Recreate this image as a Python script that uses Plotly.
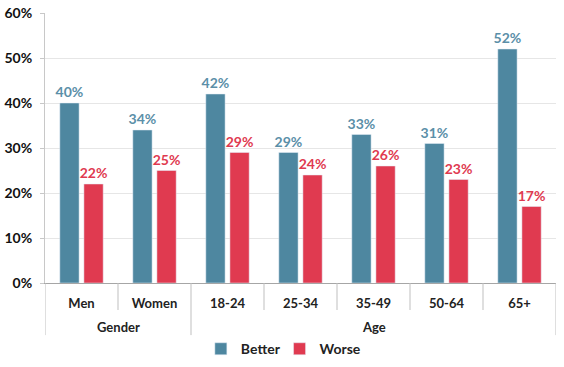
import plotly.graph_objects as go

categories = ["Men", "Women", "18-24", "25-34", "35-49", "50-64", "65+"]
groups = ["Gender", "Age"]
group_sizes = [2, 5]
better = [40, 34, 42, 29, 33, 31, 52]
worse = [22, 25, 29, 24, 26, 23, 17]
y_ticks = [0, 10, 20, 30, 40, 50, 60]

FONT = "Lato"
BLUE = "#4E87A0"
RED = "#E03A50"
x = list(range(len(categories)))

fig = go.Figure()
fig.add_trace(go.Bar(
    x=x, y=better, name="Better", marker_color=BLUE, legend="legend",
    text=[f"{v}%" for v in better], textposition="outside", constraintext="none",
    textfont=dict(family=FONT, size=14, color="#5B8FA8", weight="bold"),
    cliponaxis=False,
))
fig.add_trace(go.Bar(
    x=x, y=worse, name="Worse", marker_color=RED, legend="legend2",
    text=[f"{v}%" for v in worse], textposition="outside", constraintext="none",
    textfont=dict(family=FONT, size=14, color=RED, weight="bold"),
    cliponaxis=False,
))

shapes = []
line_col = "#BFBFBF"
bounds = [-0.5]
acc = -0.5
for s in group_sizes:
    acc += s
    bounds.append(acc)
for i in range(len(categories) + 1):
    xpos = i - 0.5
    y0 = -0.193 if any(abs(xpos - b) < 1e-9 for b in bounds) else -0.1
    shapes.append(dict(type="line", xref="x", yref="paper", x0=xpos, x1=xpos,
                       y0=0, y1=y0, line=dict(color=line_col, width=1)))

annotations = []
start = -0.5
for g, s in zip(groups, group_sizes):
    annotations.append(dict(x=start + s / 2, y=-0.163, xref="x", yref="paper",
                            text=g, showarrow=False, yanchor="middle",
                            font=dict(family=FONT, size=13, color="#222", weight="bold")))
    start += s

legend_style = dict(orientation="h", yanchor="middle", y=-0.245, xanchor="left",
                    font=dict(family=FONT, size=14, color="#222", weight="bold"),
                    itemwidth=30, bgcolor="rgba(0,0,0,0)")

fig.update_layout(
    width=564, height=367,
    margin=dict(l=45, r=8, t=13, b=84, autoexpand=False),
    paper_bgcolor="white", plot_bgcolor="white",
    barmode="group", bargap=0.34, bargroupgap=0.2,
    showlegend=True,
    legend=dict(x=0.305, **legend_style),
    legend2=dict(x=0.459, **legend_style),
    shapes=shapes, annotations=annotations,
    xaxis=dict(tickvals=x, ticktext=categories, range=[-0.5, len(categories) - 0.5],
               showgrid=False, showline=True, linecolor="#A6A6A6", ticks="",
               tickangle=0, automargin=False, ticklabelstandoff=8,
               tickfont=dict(family=FONT, size=13, color="#222", weight="bold"),
               fixedrange=True),
    yaxis=dict(range=[0, 60], tickvals=y_ticks, ticktext=[f"{v}%" for v in y_ticks],
               showgrid=True, gridcolor="#E6E6E6", showline=True, linecolor="#C8C8C8",
               ticks="outside", ticklen=4, tickcolor="#C8C8C8", zeroline=False,
               automargin=False, ticklabelstandoff=5,
               tickfont=dict(family=FONT, size=14, color="#111", weight="bold"),
               fixedrange=True),
)

fig.write_html("out.html", config={"displayModeBar": False},
               post_script="document.body.style.margin='0px';")
